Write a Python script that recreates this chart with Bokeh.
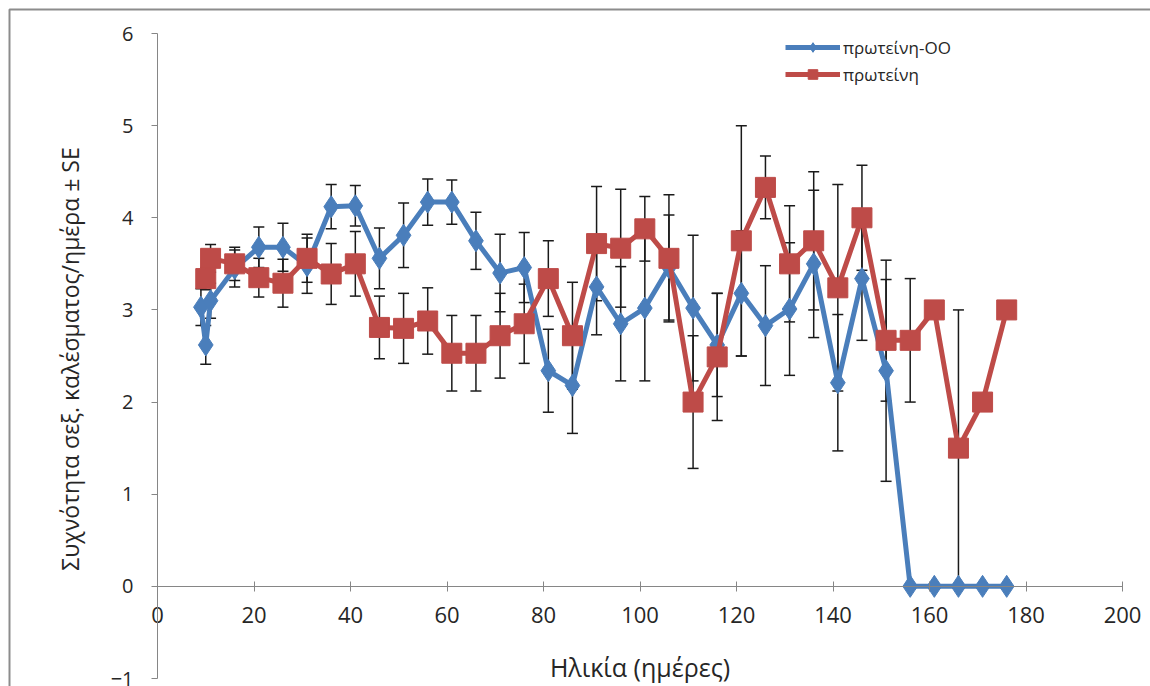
from bokeh.plotting import figure
from bokeh.models import (ColumnDataSource, Whisker, TeeHead, Legend, LegendItem,
                          FixedTicker, Range1d, BoxAnnotation)
from bokeh.embed import file_html
from bokeh.resources import INLINE

# ---------------- data ----------------
x_oo = [9, 10, 11, 16, 21, 26, 31, 36, 41, 46, 51, 56, 61, 66, 71, 76, 81, 86, 91, 96,
        101, 106, 111, 116, 121, 126, 131, 136, 141, 146, 151, 156, 161, 166, 171, 176]
y_oo = [3.03, 2.62, 3.10, 3.45, 3.68, 3.68, 3.48, 4.12, 4.13, 3.56, 3.81, 4.17, 4.17, 3.75,
        3.40, 3.46, 2.34, 2.18, 3.25, 2.85, 3.02, 3.46, 3.02, 2.62, 3.18, 2.83, 3.01, 3.50,
        2.21, 3.34, 2.34, 0, 0, 0, 0, 0]
se_oo = [0.20, 0.21, 0.19, 0.20, 0.22, 0.26, 0.30, 0.24, 0.22, 0.33, 0.35, 0.25, 0.24, 0.31,
         0.42, 0.38, 0.45, 0.52, 0.52, 0.62, 0.79, 0.57, 0.79, 0.56, 0.68, 0.65, 0.72, 0.80,
         0.74, 0.67, 1.20, 0, 0, 0, 0, 0]

x_p = [10, 11, 16, 21, 26, 31, 36, 41, 46, 51, 56, 61, 66, 71, 76, 81, 86, 91, 96, 101,
       106, 111, 116, 121, 126, 131, 136, 141, 146, 151, 156, 161, 166, 171, 176]
y_p = [3.34, 3.56, 3.50, 3.35, 3.29, 3.56, 3.39, 3.50, 2.81, 2.80, 2.88, 2.53, 2.53, 2.72,
       2.85, 3.34, 2.72, 3.72, 3.67, 3.88, 3.56, 2.00, 2.49, 3.75, 4.33, 3.50, 3.75, 3.24,
       4.00, 2.67, 2.67, 3.00, 1.50, 2.00, 3.00]
se_p = [0.12, 0.15, 0.18, 0.21, 0.26, 0.26, 0.33, 0.35, 0.34, 0.38, 0.36, 0.41, 0.41, 0.46,
        0.43, 0.41, 0.58, 0.62, 0.64, 0.35, 0.69, 0.72, 0.69, 1.25, 0.34, 0.63, 0.75, 1.12,
        0.57, 0.66, 0.67, 0, 1.50, 0, 0]

x_ticks = [0, 20, 40, 60, 80, 100, 120, 140, 160, 180, 200]
y_ticks = [-1, 0, 1, 2, 3, 4, 5, 6]

label_oo = "πρωτείνη-OO"
label_p = "πρωτείνη"
x_title = "Ηλικία (ημέρες)"
y_title = "Συχνότητα σεξ. καλέσματος/ημέρα  ± SE"

BLUE = "#4A7EBB"
RED = "#BE4B48"
FONT = "Open Sans"
TXT = "#262626"
AX = "#868686"

# ---------------- layout (pixels) ----------------
W, H = 1150, 686
PLOT_L, PLOT_R = 157, 1122      # pixel positions of x = 0 and x = 200
PLOT_T, PLOT_B = 33, 678        # pixel positions of y = 6 and y = -1
XA, XB = x_ticks[0], x_ticks[-1]
YA, YB = y_ticks[0], y_ticks[-1]
sx = (PLOT_R - PLOT_L) / (XB - XA)
sy = (PLOT_B - PLOT_T) / (YB - YA)
x_range = Range1d(XA - PLOT_L / sx, XB + (W - PLOT_R) / sx)
y_range = Range1d(YA - (H - PLOT_B) / sy, YB + PLOT_T / sy)

p = figure(width=W, height=H, output_backend="svg", toolbar_location=None,
           x_range=x_range, y_range=y_range,
           min_border_left=0, min_border_right=0, min_border_top=0, min_border_bottom=0)
p.outline_line_color = None
p.grid.visible = False
p.background_fill_color = "white"
p.border_fill_color = "white"

# x axis crossing at y = 0
xa = p.xaxis[0]
xa.fixed_location = 0
xa.bounds = (XA, XB)
xa.ticker = FixedTicker(ticks=x_ticks)
xa.minor_tick_line_color = None
xa.major_tick_in = 5
xa.major_tick_out = 5
xa.axis_line_color = AX
xa.major_tick_line_color = AX
xa.major_label_text_font = FONT
xa.major_label_text_font_size = "22px"
xa.major_label_text_color = TXT
xa.major_label_standoff = 16
xa.axis_label = x_title
xa.axis_label_text_font = FONT
xa.axis_label_text_font_size = "25px"
xa.axis_label_text_font_style = "normal"
xa.axis_label_text_color = TXT
xa.axis_label_standoff = 23

# y axis at x = 0
ya = p.yaxis[0]
ya.fixed_location = 0
ya.bounds = (YA, YB)
ya.ticker = FixedTicker(ticks=y_ticks)
ya.minor_tick_line_color = None
ya.major_tick_in = 0
ya.major_tick_out = 6
ya.axis_line_color = AX
ya.major_tick_line_color = AX
ya.major_label_text_font = FONT
ya.major_label_text_font_size = "20px"
ya.major_label_text_color = TXT
ya.major_label_standoff = 18
ya.axis_label = y_title
ya.axis_label_text_font = FONT
ya.axis_label_text_font_size = "23px"
ya.axis_label_text_font_style = "normal"
ya.axis_label_text_color = TXT
ya.axis_label_standoff = 22

# ---------------- outer chart-area border ----------------
# left and top edges visible, the rest cropped as in the reference
BORDER_PX = 9
p.add_layout(BoxAnnotation(left=x_range.start + BORDER_PX / sx,
                           top=y_range.end - BORDER_PX / sy,
                           right=x_range.end + 50, bottom=y_range.start - 50,
                           fill_alpha=0, line_color="#8c8c8c", line_alpha=1.0,
                           line_width=2, line_dash="solid", level="underlay"))

# ---------------- error bars ----------------
def err_source(xs, ys, ses):
    keep = [i for i, s in enumerate(ses) if s > 0]
    return ColumnDataSource(dict(
        x=[xs[i] for i in keep],
        lower=[ys[i] - ses[i] for i in keep],
        upper=[ys[i] + ses[i] for i in keep]))

for xs, ys, ses in ((x_oo, y_oo, se_oo), (x_p, y_p, se_p)):
    w = Whisker(base="x", lower="lower", upper="upper", source=err_source(xs, ys, ses),
                line_color="#1a1a1a", line_width=1.5,
                upper_head=TeeHead(size=11, line_color="#1a1a1a", line_width=1.5),
                lower_head=TeeHead(size=11, line_color="#1a1a1a", line_width=1.5))
    p.add_layout(w)

# ---------------- series ----------------
src_oo = ColumnDataSource(dict(x=x_oo, y=y_oo))
src_p = ColumnDataSource(dict(x=x_p, y=y_p))

l_oo = p.line("x", "y", source=src_oo, line_color=BLUE, line_width=5, line_join="round")
m_oo = p.scatter("x", "y", source=src_oo, marker="diamond", size=22,
                 fill_color=BLUE, line_color=BLUE)
l_p = p.line("x", "y", source=src_p, line_color=RED, line_width=5, line_join="round")
m_p = p.scatter("x", "y", source=src_p, marker="square", size=20,
                fill_color=RED, line_color=RED)

legend = Legend(items=[LegendItem(label=label_oo, renderers=[l_oo, m_oo]),
                       LegendItem(label=label_p, renderers=[l_p, m_p])],
                location=(785, 600), orientation="vertical",
                glyph_width=55, glyph_height=24, label_height=24, spacing=3,
                label_standoff=3, padding=0, margin=0,
                border_line_color=None, background_fill_alpha=0,
                label_text_font=FONT, label_text_font_size="17px", label_text_color=TXT)
p.add_layout(legend, "center")

open("out.html", "w").write(file_html(p, INLINE))
